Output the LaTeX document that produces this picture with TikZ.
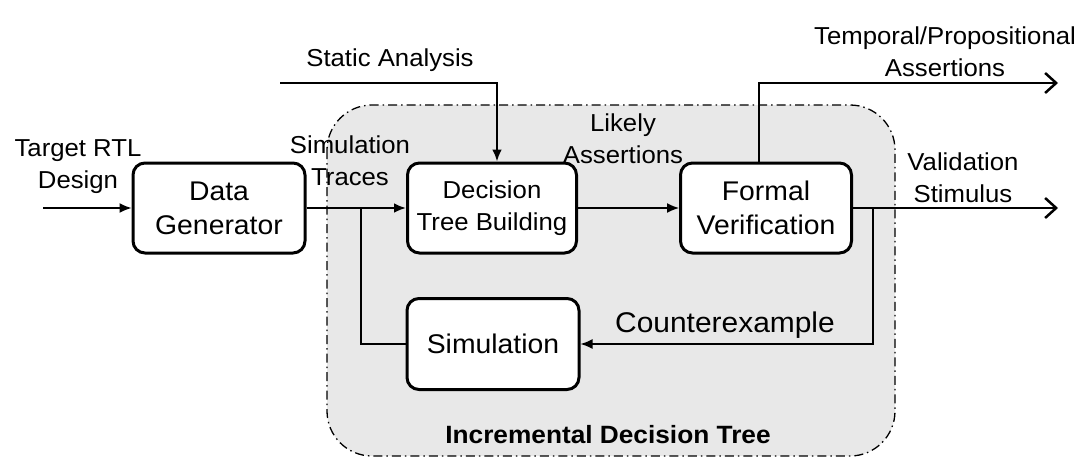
\documentclass[tikz,border=0pt]{standalone}
\usepackage{fontspec}
\setmainfont{Liberation Sans}[FakeStretch=1.05]
\usetikzlibrary{positioning}
\usetikzlibrary{arrows.meta}

\definecolor{bggray}{HTML}{E8E8E8}
\tikzset{
  block/.style={draw,line width=3pt,rounded corners=12pt,fill=white,align=center,
    font=\fontsize{27}{34}\selectfont},
  lbl/.style={align=center,inner sep=0pt,font=\fontsize{24.5}{32}\selectfont},
  bgbox/.style={fill=bggray,line width=1.3pt,rounded corners=45pt,
    dash pattern=on 9pt off 4pt on 1.5pt off 4pt},
  wire/.style={line width=2.5pt},
  thinwire/.style={line width=1.5pt},
  inarrow/.style={-{Latex[length=12pt,width=10pt]}},
  outarrow/.style={-{Straight Barb[length=11pt,width=20pt]}},
}

\begin{document}
\begin{tikzpicture}[x=1pt,y=-1pt]
\useasboundingbox (0,0) rectangle (1088,469);
\draw[bgbox] (327,105) rectangle (895,456);

\node[block,minimum width=172pt,minimum height=90pt] (gen) at (219,208) {Data\\Generator};
\node[block,minimum width=169pt,minimum height=90pt,font=\fontsize{24.5}{32}\selectfont] (dtb) at (492,208) {Decision\\Tree Building};
\node[block,minimum width=171pt,minimum height=90pt] (fv) at (766,208) {Formal\\Verification};
\node[block,minimum width=172pt,minimum height=91pt] (sim) at (493,344) {Simulation};

\coordinate (in) at (43,208);
\coordinate (br) at (361,208);
\coordinate (sa) at (280,83);
\coordinate (tpa) at (1058,83);
\coordinate (vs) at (1058,208);
\coordinate (cx) at (873,208);

\node[lbl] (lin) at (78,167) {Target RTL\\Design};
\node[lbl] (ltr) at (350,161) {Simulation\\Traces};
\node[lbl] (lsa) at (390,60) {Static Analysis};
\node[lbl] (lla) at (623,139) {Likely\\Assertions};
\node[lbl] (ltp) at (945,52) {Temporal/Propositional\\Assertions};
\node[lbl] (lvs) at (963,178) {Validation\\Stimulus};
\node[lbl,font=\fontsize{28.5}{32}\selectfont] (lcx) at (725,325) {Counterexample};
\node[lbl,font=\fontsize{25}{32}\selectfont\bfseries] (lidt) at (608,435) {Incremental Decision Tree};

\draw[thinwire,inarrow] (in) -- (gen.west);
\draw[wire,inarrow] (gen.east) -- (dtb.west);
\draw[wire] (sim.west) -| (br);
\draw[wire,inarrow] (sa) -| ([xshift=5pt]dtb.north);
\draw[thinwire,inarrow] (dtb.east) -- (fv.west);
\draw[wire,outarrow] ([xshift=-7pt]fv.north) |- (tpa);
\draw[wire,outarrow] (fv.east) -- (vs);
\draw[thinwire,inarrow] (cx) |- (sim.east);
\end{tikzpicture}
\end{document}
